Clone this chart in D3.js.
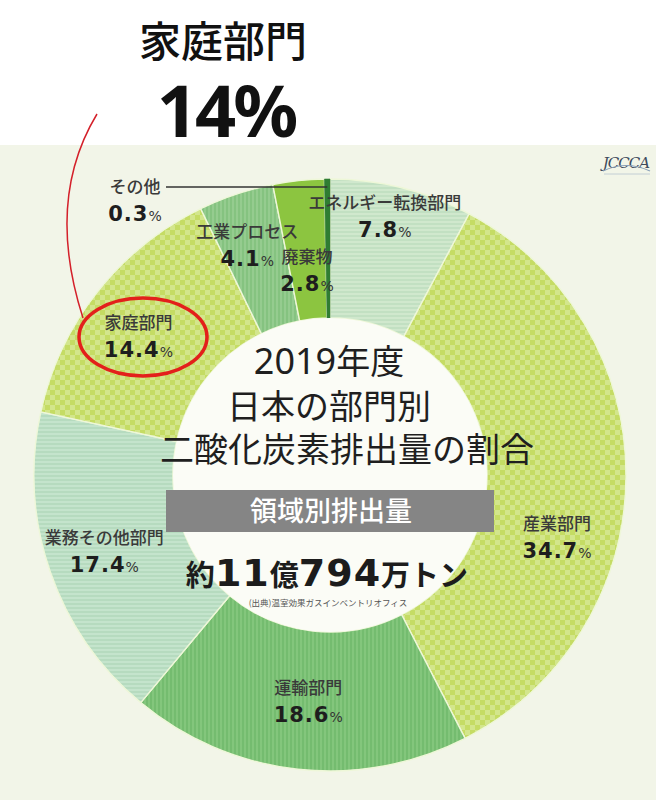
<!DOCTYPE html>
<html><head><meta charset="utf-8">
<script src="https://cdn.jsdelivr.net/npm/d3@7"></script>
<style>
html,body{margin:0;padding:0;background:#fff;}
svg{display:block;font-family:"Noto Sans CJK JP","Noto Sans",sans-serif;}
</style></head>
<body>
<svg id="c" width="656" height="800"></svg>
<script>
// ---- data ----
const categories = ["エネルギー転換部門","産業部門","運輸部門","業務その他部門","家庭部門","工業プロセス","廃棄物","その他"];
const values = [7.8, 34.7, 18.6, 17.4, 14.4, 4.1, 2.8, 0.3];
const valueLabels = ["7.8","34.7","18.6","17.4","14.4","4.1","2.8","0.3"];
const titleLines = ["2019年度","日本の部門別","二酸化炭素排出量の割合"];
const bannerText = "領域別排出量";
const totalParts = [["約",false],["11",true],["億",false],["794",true],["万トン",false]];
const sourceText = "(出典)温室効果ガスインベントリオフィス";
const highlightName = "家庭部門";
const highlightValue = "14%";

// ---- styles ----
const fills = ["url(#hstripeA)","url(#checker)","url(#vstripeA)","url(#hstripeB)","url(#checker)","url(#vstripeB)","#8cc540","#2f7d32"];
// label block offsets from arc centroid
const labelNudge = [[0,-40],[1,60],[3,1],[-12,3],[-14,1],[-11,-16],[1,20],null];

const svg = d3.select("#c");
const W = 656, H = 800;
svg.append("rect").attr("width",W).attr("height",H).attr("fill","#ffffff");
svg.append("rect").attr("x",0).attr("y",145).attr("width",W).attr("height",H-145).attr("fill","#f2f5e8");

const defs = svg.append("defs");
function checker(id,c1,c2,s){
  const p = defs.append("pattern").attr("id",id).attr("patternUnits","userSpaceOnUse")
    .attr("width",s*2).attr("height",s*2);
  p.append("rect").attr("width",s*2).attr("height",s*2).attr("fill",c1);
  p.append("rect").attr("width",s).attr("height",s).attr("fill",c2);
  p.append("rect").attr("x",s).attr("y",s).attr("width",s).attr("height",s).attr("fill",c2);
}
function stripes(id,c1,c2,vertical,per){
  const p = defs.append("pattern").attr("id",id).attr("patternUnits","userSpaceOnUse")
    .attr("width",per).attr("height",per);
  p.append("rect").attr("width",per).attr("height",per).attr("fill",c1);
  if(vertical) p.append("rect").attr("width",per/2).attr("height",per).attr("fill",c2);
  else p.append("rect").attr("width",per).attr("height",per/2).attr("fill",c2);
}
checker("checker","#c5dc64","#d3e68c",5);
stripes("hstripeA","#d0e8cd","#c2e0c2",false,4);
stripes("hstripeB","#c4e4cc","#b6dbbf",false,4);
stripes("vstripeA","#83c67c","#74bc6f",true,4);
stripes("vstripeB","#95cc8f","#85c380",true,4);

const cx = 330, cy = 475, rOuter = 296, rInner = 157;
const g = svg.append("g").attr("transform",`translate(${cx},${cy})`);

const pie = d3.pie().sort(null).value(d=>d.v);
const data = categories.map((c,i)=>({name:c,v:values[i],label:valueLabels[i],i}));
const arcs = pie(data);
const arc = d3.arc().innerRadius(rInner).outerRadius(rOuter);
const arcMid = d3.arc().innerRadius(226).outerRadius(226);

g.selectAll("path.seg").data(arcs).join("path").attr("class","seg")
  .attr("d",arc).attr("fill",(d,i)=>fills[i])
  .attr("stroke",(d,i)=> i===7 ? "#2f7d32" : "#eef7d8").attr("stroke-width",(d,i)=>i===7?0.6:1.4);

// inner disc
g.append("circle").attr("r",rInner).attr("fill","#fbfcf6");

// segment labels
arcs.forEach((d,i)=>{
  let x, y;
  if(labelNudge[i]){
    const c = arcMid.centroid(d);
    x = cx + c[0] + labelNudge[i][0];
    y = cy + c[1] + labelNudge[i][1];
  } else {
    const a = (d.startAngle + d.endAngle)/2;
    const ly = cy - 288;
    const lx2 = cx + Math.sin(a)*288;
    svg.append("line").attr("x1",166).attr("x2",lx2).attr("y1",ly).attr("y2",ly)
      .attr("stroke","#333").attr("stroke-width",1.3);
    x = 135; y = cy - 275;
  }
  svg.append("text").attr("x",x).attr("y",y-7).attr("text-anchor","middle")
    .attr("font-size",17).attr("font-weight",500).attr("fill","#3a3a3a")
    .text(d.data.name);
  const t = svg.append("text").attr("x",x).attr("y",y+21).attr("text-anchor","middle")
    .attr("fill","#1e1e1e").attr("font-family","'DejaVu Sans','Noto Sans',sans-serif");
  t.append("tspan").attr("font-size",21).attr("font-weight",700).attr("letter-spacing",1).text(d.data.label);
  t.append("tspan").attr("font-size",14).attr("font-weight",400).attr("fill","#333").text("%");
});

// center title
const titleY = [374, 419, 462];
const titleX = [329, 329, 347];
titleLines.forEach((s,i)=>{
  const t = svg.append("text").attr("x",titleX[i]).attr("y",titleY[i]).attr("text-anchor","middle")
    .attr("font-size",i===2?34:34).attr("font-weight",400).attr("fill","#1f1f1f");
  if(i===0){
    t.append("tspan").attr("font-family","'Noto Sans',sans-serif").attr("font-size",36).text(s.slice(0,4));
    t.append("tspan").text(s.slice(4));
  } else t.text(s);
});

// banner
svg.append("rect").attr("x",166).attr("y",490).attr("width",328).attr("height",42).attr("fill","#858585");
svg.append("text").attr("x",331).attr("y",521).attr("text-anchor","middle")
  .attr("font-size",27).attr("font-weight",500).attr("fill","#ffffff").text(bannerText);

// total
const tt = svg.append("text").attr("x",327).attr("y",586).attr("text-anchor","middle").attr("fill","#1c1c1c");
totalParts.forEach(([s,big])=>{
  tt.append("tspan").attr("font-size",big?38:29).attr("font-weight",700)
    .attr("font-family", big ? "'DejaVu Sans','Noto Sans',sans-serif" : null)
    .attr("letter-spacing", big?1:0)
    .text(s);
});
svg.append("text").attr("x",328).attr("y",606).attr("text-anchor","middle")
  .attr("font-size",8.5).attr("fill","#555").text(sourceText);

// logo
svg.append("text").attr("x",626).attr("y",168).attr("text-anchor","middle")
  .attr("font-size",15).attr("font-family","'DejaVu Serif',serif").attr("font-style","italic")
  .attr("fill","#3d4a5c").attr("letter-spacing",-1).text("JCCCA");
svg.append("path").attr("d","M603,171 Q626,160 650,171").attr("fill","none").attr("stroke","#8aa0b8").attr("stroke-width",1.2);
svg.append("line").attr("x1",604).attr("x2",650).attr("y1",174).attr("y2",174).attr("stroke","#b8c4cf").attr("stroke-width",0.8);

// highlight header
svg.append("text").attr("x",223).attr("y",57).attr("text-anchor","middle")
  .attr("font-size",42).attr("font-weight",500).attr("fill","#111").text(highlightName);
svg.append("text").attr("x",226).attr("y",137).attr("text-anchor","middle")
  .attr("font-size",72).attr("font-weight",700).attr("letter-spacing",-3).attr("font-family","'Noto Sans','DejaVu Sans',sans-serif")
  .attr("fill","#111").text(highlightValue);

// red callout
svg.append("ellipse").attr("cx",143).attr("cy",337).attr("rx",64).attr("ry",39)
  .attr("fill","none").attr("stroke","#e3201b").attr("stroke-width",3.5);
svg.append("path").attr("d","M97,114 Q45,200 83,318").attr("fill","none")
  .attr("stroke","#d4202a").attr("stroke-width",1.5);
</script>
</body></html>
